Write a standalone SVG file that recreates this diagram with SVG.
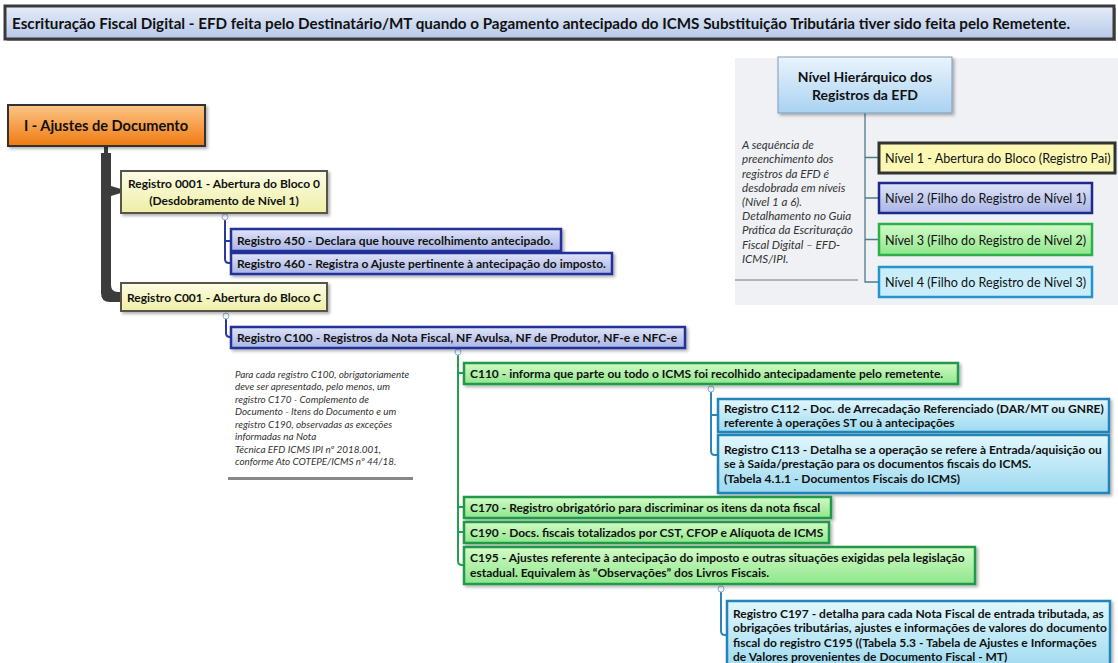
<svg xmlns="http://www.w3.org/2000/svg" width="1118" height="663" viewBox="0 0 1118 663">
<defs>
<linearGradient id="gTitle" x1="0" y1="0" x2="0" y2="1"><stop offset="0" stop-color="#e6edf9"/><stop offset="1" stop-color="#b6c8e8"/></linearGradient>
<linearGradient id="gOrange" x1="0" y1="0" x2="0" y2="1"><stop offset="0" stop-color="#fcc586"/><stop offset="1" stop-color="#f07a12"/></linearGradient>
<linearGradient id="gL1" x1="0" y1="0" x2="0" y2="1"><stop offset="0" stop-color="#fdfde6"/><stop offset="1" stop-color="#eeeea6"/></linearGradient>
<linearGradient id="gL2" x1="0" y1="0" x2="0" y2="1"><stop offset="0" stop-color="#dfe4f7"/><stop offset="1" stop-color="#a9b5e5"/></linearGradient>
<linearGradient id="gL3" x1="0" y1="0" x2="0" y2="1"><stop offset="0" stop-color="#d2fbc6"/><stop offset="1" stop-color="#8fe68c"/></linearGradient>
<linearGradient id="gL4" x1="0" y1="0" x2="0" y2="1"><stop offset="0" stop-color="#e2f7fd"/><stop offset="1" stop-color="#9cdaef"/></linearGradient>
<linearGradient id="gLeg" x1="0" y1="0" x2="0" y2="1"><stop offset="0" stop-color="#eaf4fd"/><stop offset="1" stop-color="#a9d2f2"/></linearGradient>
<filter id="sh" x="-5%" y="-20%" width="110%" height="150%"><feDropShadow dx="2" dy="2" stdDeviation="1.5" flood-color="#000" flood-opacity="0.3"/></filter>
</defs>
<style>
text{font-family:Lato,"Open Sans","Liberation Sans",sans-serif;fill:#111}
.b{font-weight:bold;font-size:12px}
.lv1{fill:url(#gL1);stroke:#55554a;stroke-width:2}
.lv2{fill:url(#gL2);stroke:#24339a;stroke-width:2.5}
.lv3{fill:url(#gL3);stroke:#21994a;stroke-width:2.5}
.lv4{fill:url(#gL4);stroke:#2084b8;stroke-width:2.5}
.c2{fill:none;stroke:#2a3a9c;stroke-width:2}
.c3{fill:none;stroke:#22a04c;stroke-width:2}
.c4{fill:none;stroke:#2c86b8;stroke-width:2}
.dot{fill:#f4f8ff;stroke:#8fb0d8;stroke-width:1}
.note{font-style:italic;font-size:9.9px;fill:#333}
.lnote{font-style:italic;font-size:11.6px;fill:#333}
.leg{font-size:12.6px;fill:#111}
</style>

<!-- title -->
<g id="title">
<rect x="7" y="8" width="1109" height="33" fill="#9a9a9a"/>
<rect x="5" y="6" width="1109" height="33" fill="url(#gTitle)" stroke="#3a3a3a" stroke-width="3"/>
<text x="12" y="28.5" font-weight="bold" font-size="14.5px" textLength="1058" lengthAdjust="spacingAndGlyphs">Escrituração Fiscal Digital - EFD feita pelo Destinatário/MT quando o Pagamento antecipado do ICMS Substituição Tributária tiver sido feita pelo Remetente.</text>
</g>

<!-- legend panel -->
<g id="legend">
<rect x="735" y="58" width="383" height="247" fill="#eff1f5"/>
<g fill="none" stroke="#4d7c8a" stroke-width="1.3">
<path d="M865,113 V282 H878 M865,157.5 H878 M865,198 H878 M865,239.5 H878"/>
</g>
<rect x="778" y="57" width="174" height="56" fill="url(#gLeg)" stroke="#7f9bb5" stroke-width="1" filter="url(#sh)"/>
<text x="865" y="82" text-anchor="middle" font-weight="bold" font-size="14px">Nível Hierárquico dos</text>
<text x="865" y="100" text-anchor="middle" font-weight="bold" font-size="14px">Registros da EFD</text>
<g id="leg1"><rect x="879" y="143" width="236" height="30" fill="#fbf8b4" stroke="#333" stroke-width="3"/><text class="leg" x="885" y="162.5">Nível 1 - Abertura do Bloco (Registro Pai)</text></g>
<g id="leg2"><rect x="879" y="183" width="213" height="30" fill="url(#gL2)" stroke="#1c2a90" stroke-width="2.5"/><text class="leg" x="885" y="202.5">Nível 2 (Filho do Registro de Nível 1)</text></g>
<g id="leg3"><rect x="879" y="224" width="213" height="31" fill="url(#gL3)" stroke="#2bb04a" stroke-width="2.5"/><text class="leg" x="885" y="244.5">Nível 3 (Filho do Registro de Nível 2)</text></g>
<g id="leg4"><rect x="879" y="267" width="213" height="30" fill="#c9eefa" stroke="#2494cc" stroke-width="2.5"/><text class="leg" x="885" y="286.5">Nível 4 (Filho do Registro de Nível 3)</text></g>
<g id="legnote">
<text class="lnote" x="742" y="149">A sequência de</text>
<text class="lnote" x="742" y="163">preenchimento dos</text>
<text class="lnote" x="742" y="177.5">registros da EFD é</text>
<text class="lnote" x="742" y="191.5">desdobrada em níveis</text>
<text class="lnote" x="742" y="206">(Nível 1 a 6).</text>
<text class="lnote" x="742" y="220">Detalhamento no Guia</text>
<text class="lnote" x="742" y="234">Prática da Escrituração</text>
<text class="lnote" x="742" y="248.5">Fiscal Digital – EFD-</text>
<text class="lnote" x="742" y="263">ICMS/IPI.</text>
<line x1="735" y1="280" x2="858" y2="280" stroke="#777" stroke-width="1"/>
</g>
</g>

<!-- connectors -->
<g id="connectors">
<path d="M104,146 H108 V153 H111 V285 Q111,292 118,292 H121 V302 H110 Q101,302 101,293 V153 H104 Z" fill="#3c3c3c"/>
<path d="M111,186 L121,189 V193 L111,196 Z" fill="#3c3c3c"/>
<path class="c2" d="M225,220 V259 Q225,263 229,263 H231 M225,241 H231"/>
<path class="c2" d="M226,319 V333 Q226,337 230,337 H231"/>
<path class="c3" d="M458,355 V561 Q458,565 462,565 H464 M458,373 H464 M458,507 H464 M458,532 H464"/>
<path class="c4" d="M711,392 V451 Q711,455 715,455 H718 M711,415 H718"/>
<path class="c4" d="M721,592 V631 Q721,635 725,635 H727"/>
<circle class="dot" cx="225" cy="217" r="3"/>
<circle class="dot" cx="226" cy="316" r="3"/>
<circle class="dot" cx="458" cy="352" r="3"/>
<circle class="dot" cx="711" cy="389" r="3"/>
<circle class="dot" cx="721" cy="589" r="3"/>
</g>

<!-- nodes -->
<g id="root">
<rect x="8" y="105" width="197" height="41" fill="url(#gOrange)" stroke="#333" stroke-width="2" filter="url(#sh)"/>
<text x="106" y="131" text-anchor="middle" font-weight="bold" font-size="14.6px">I - Ajustes de Documento</text>
</g>
<g id="r0001">
<rect class="lv1" x="121" y="171" width="206" height="42" filter="url(#sh)"/>
<text class="b" x="224" y="187.5" text-anchor="middle">Registro 0001 - Abertura do Bloco 0</text>
<text class="b" x="224" y="204.5" text-anchor="middle">(Desdobramento de Nível 1)</text>
</g>
<g id="r450">
<rect class="lv2" x="231" y="229" width="330" height="22" filter="url(#sh)"/>
<text class="b" x="237" y="244.5">Registro 450 - Declara que houve recolhimento antecipado.</text>
</g>
<g id="r460">
<rect class="lv2" x="231" y="253" width="381" height="21" filter="url(#sh)"/>
<text class="b" x="237" y="268">Registro 460 - Registra o Ajuste pertinente à antecipação do imposto.</text>
</g>
<g id="rC001">
<rect class="lv1" x="121" y="283" width="206" height="28" filter="url(#sh)"/>
<text class="b" x="127" y="301.5">Registro C001 - Abertura do Bloco C</text>
</g>
<g id="rC100">
<rect class="lv2" x="231" y="327" width="454" height="21" filter="url(#sh)"/>
<text class="b" x="237" y="342">Registro C100 - Registros da Nota Fiscal, NF Avulsa, NF de Produtor, NF-e e NFC-e</text>
</g>
<g id="noteC100">
<text class="note" x="235" y="377.5">Para cada registro C100, obrigatoriamente</text>
<text class="note" x="235" y="390">deve ser apresentado, pelo menos, um</text>
<text class="note" x="235" y="402.5">registro C170 - Complemento de</text>
<text class="note" x="235" y="415">Documento - Itens do Documento e um</text>
<text class="note" x="235" y="427.5">registro C190, observadas as exceções</text>
<text class="note" x="235" y="440">informadas na Nota</text>
<text class="note" x="235" y="452.5">Técnica EFD ICMS IPI nº 2018.001,</text>
<text class="note" x="235" y="465">conforme Ato COTEPE/ICMS nº 44/18.</text>
<line x1="228" y1="478.5" x2="413" y2="478.5" stroke="#888" stroke-width="3"/>
</g>
<g id="rC110">
<rect class="lv3" x="464" y="363" width="494" height="21" filter="url(#sh)"/>
<text class="b" x="470" y="378">C110 - informa que parte ou todo o ICMS foi recolhido antecipadamente pelo remetente.</text>
</g>
<g id="rC112">
<rect class="lv4" x="718" y="399" width="391" height="33" filter="url(#sh)"/>
<text class="b" x="724" y="412.5">Registro C112 - Doc. de Arrecadação Referenciado  (DAR/MT ou GNRE)</text>
<text class="b" x="724" y="427">referente à operações  ST ou à antecipações</text>
</g>
<g id="rC113">
<rect class="lv4" x="718" y="435" width="391" height="58" filter="url(#sh)"/>
<text class="b" x="724" y="453.5">Registro C113 - Detalha se a operação se refere à  Entrada/aquisição ou</text>
<text class="b" x="724" y="468">se à  Saída/prestação para os documentos fiscais do ICMS.</text>
<text class="b" x="724" y="482.5">(Tabela 4.1.1 - Documentos Fiscais do ICMS)</text>
</g>
<g id="rC170">
<rect class="lv3" x="464" y="497" width="367" height="21" filter="url(#sh)"/>
<text class="b" x="470" y="512">C170 - Registro obrigatório para discriminar os itens da nota fiscal</text>
</g>
<g id="rC190">
<rect class="lv3" x="464" y="522" width="365" height="21" filter="url(#sh)"/>
<text class="b" x="470" y="537">C190 - Docs.  fiscais totalizados por  CST, CFOP e Alíquota de ICMS</text>
</g>
<g id="rC195">
<rect class="lv3" x="464" y="547" width="511" height="37" filter="url(#sh)"/>
<text class="b" x="470" y="562">C195 - Ajustes referente à antecipação do imposto e outras situações exigidas pela legislação</text>
<text class="b" x="470" y="577">estadual. Equivalem às “Observações” dos Livros Fiscais.</text>
</g>
<g id="rC197">
<rect class="lv4" x="727" y="601" width="383" height="70" filter="url(#sh)"/>
<text class="b" x="733" y="617.5">Registro C197 - detalha para cada Nota Fiscal de entrada tributada, as</text>
<text class="b" x="733" y="632">obrigações tributárias, ajustes e informações de valores do documento</text>
<text class="b" x="733" y="646.5">fiscal do registro C195 ((Tabela 5.3 - Tabela de Ajustes e Informações</text>
<text class="b" x="733" y="661">de Valores provenientes de Documento Fiscal - MT)</text>
</g>
</svg>
